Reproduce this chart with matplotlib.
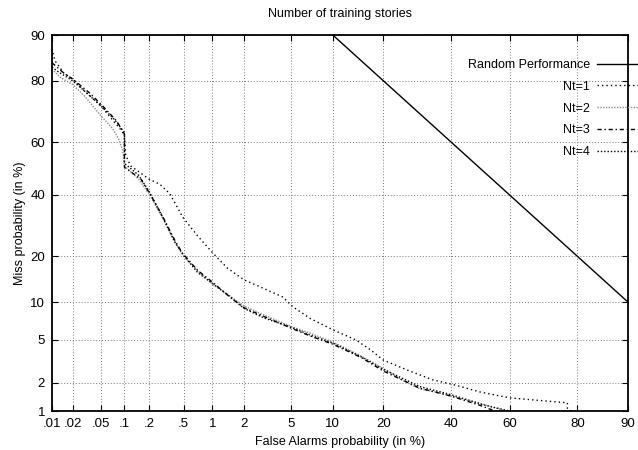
import numpy as np
import matplotlib
matplotlib.use('Agg')
import matplotlib.pyplot as plt
from statistics import NormalDist

plt.rcParams['font.family'] = ['Liberation Sans', 'DejaVu Sans']
plt.rcParams['font.size'] = 9

# DET curves, values in percent
random_fa = [10, 90]
random_miss = [90, 10]

nt1_fa = [0.01, 0.011, 0.015, 0.02, 0.03, 0.05, 0.07, 0.09, 0.1, 0.104, 0.12, 0.156, 0.2, 0.27,
          0.35, 0.49, 0.7, 1.0, 1.4, 2.0, 2.8, 4.3, 5.2, 7, 10, 14, 17, 20, 27, 34, 41, 50, 60,
          70, 77.5, 77.5, 78.5]
nt1_miss = [87.5, 85, 82, 80.5, 77, 72.5, 68, 64.5, 62.5, 55, 51, 48.5, 46, 44,
            40.5, 32, 26, 21, 17, 14.3, 12.8, 10.9, 9.2, 7.5, 6.1, 5.0, 4.1, 3.3, 2.6, 2.13, 1.9, 1.6, 1.39,
            1.3, 1.23, 1.07, 1.0]

nt2_fa = [0.01, 0.013, 0.02, 0.03, 0.048, 0.07, 0.083, 0.095, 0.1, 0.15, 0.2, 0.3, 0.4, 0.5, 0.75, 1.0,
          1.5, 2.0, 3.0, 5.0, 7.0, 10, 15, 20, 25, 30, 35, 40, 50, 58]
nt2_miss = [83, 81, 79, 75.5, 69.7, 65, 61.6, 57, 51, 46, 40.5, 31, 24, 20, 15.8, 13.4,
            11, 9.4, 8.0, 6.5, 5.7, 4.8, 3.6, 2.75, 2.1, 1.72, 1.6, 1.45, 1.2, 1.02]

nt3_fa = [0.01, 0.015, 0.02, 0.035, 0.055, 0.08, 0.1, 0.1, 0.16, 0.21, 0.3, 0.4, 0.48, 0.7, 1.0, 1.5,
          2.0, 3.0, 5.0, 7.0, 10, 15, 20, 30, 40, 50, 55]
nt3_miss = [84.5, 82, 80.5, 76.5, 72, 67.5, 63, 50.5, 46, 40, 31.5, 24.5, 21, 16.5, 13.8, 10.8,
            9.1, 7.8, 6.3, 5.4, 4.6, 3.5, 2.6, 1.75, 1.45, 1.15, 1.0]

nt4_fa = [0.01, 0.012, 0.02, 0.03, 0.05, 0.075, 0.1, 0.1, 0.15, 0.2, 0.28, 0.4, 0.5, 0.7, 1.0, 1.5,
          2.0, 3.0, 5.0, 7.0, 10, 15, 20, 30, 40, 52, 60]
nt4_miss = [83.5, 82.5, 80, 77, 72.5, 68, 63.5, 52, 47.5, 41.5, 33, 24, 20.2, 16, 13.5, 10.9,
            9.0, 7.6, 6.4, 5.5, 4.7, 3.55, 2.7, 1.82, 1.5, 1.15, 1.0]

x_ticks = [0.01, 0.02, 0.05, 0.1, 0.2, 0.5, 1, 2, 5, 10, 20, 40, 60, 80, 90]
x_labels = ['.01', '.02', '.05', '.1', '.2', '.5', '1', '2', '5', '10', '20', '40', '60', '80', '90']
y_ticks = [1, 2, 5, 10, 20, 40, 60, 80, 90]
y_labels = ['1', '2', '5', '10', '20', '40', '60', '80', '90']

# normal deviate scale
nd = NormalDist()
_ppf = np.vectorize(nd.inv_cdf, otypes=[float])
_cdf = np.vectorize(nd.cdf, otypes=[float])


def probit(p):
    p = np.clip(np.asarray(p, dtype=float) / 100.0, 1e-9, 1 - 1e-9)
    return _ppf(p)


def inv_probit(z):
    return _cdf(np.asarray(z, dtype=float)) * 100.0


fig = plt.figure(figsize=(6.38, 4.5), dpi=100)
ax = fig.add_axes([52 / 638, 1 - 411 / 450, 576 / 638, 376 / 450])
ax.set_xscale('function', functions=(probit, inv_probit))
ax.set_yscale('function', functions=(probit, inv_probit))

ax.plot(random_fa, random_miss, color='black', lw=1.0, label='Random Performance')
ax.plot(nt1_fa, nt1_miss, color='black', lw=1.0, linestyle=(0, (1, 2.2)), label='Nt=1')
ax.plot(nt2_fa, nt2_miss, color='#8a8a8a', lw=1.0, linestyle=(0, (1, 1)), label='Nt=2')
ax.plot(nt3_fa, nt3_miss, color='black', lw=1.0, linestyle=(0, (3, 2, 1, 2)), label='Nt=3')
ax.plot(nt4_fa, nt4_miss, color='black', lw=1.0, linestyle=(0, (1, 1.4)), label='Nt=4')

ax.set_xlim(0.01, 90)
ax.set_ylim(1, 90)
ax.set_xticks(x_ticks)
ax.set_xticklabels(x_labels)
ax.set_yticks(y_ticks)
ax.set_yticklabels(y_labels)
ax.minorticks_off()
ax.tick_params(direction='in', length=4, width=0.8, top=True, right=True, labelsize=9.5, pad=5)

ax.grid(True, color='#777777', linestyle=(0, (1, 2)), linewidth=0.7)
for s in ax.spines.values():
    s.set_linewidth(1.3)

ax.set_title('Number of training stories', fontsize=9, pad=13)
ax.set_xlabel('False Alarms probability (in %)', fontsize=9, labelpad=4)
ax.set_ylabel('Miss probability (in %)', fontsize=9, labelpad=3)

leg = ax.legend(loc='upper right', bbox_to_anchor=(1.017, 0.936), frameon=False,
                markerfirst=False, handlelength=3.3, handletextpad=0.55,
                labelspacing=0.78, borderpad=0, borderaxespad=0, fontsize=9)
leg.set_clip_on(False)

fig.savefig('out.png', dpi=100)
